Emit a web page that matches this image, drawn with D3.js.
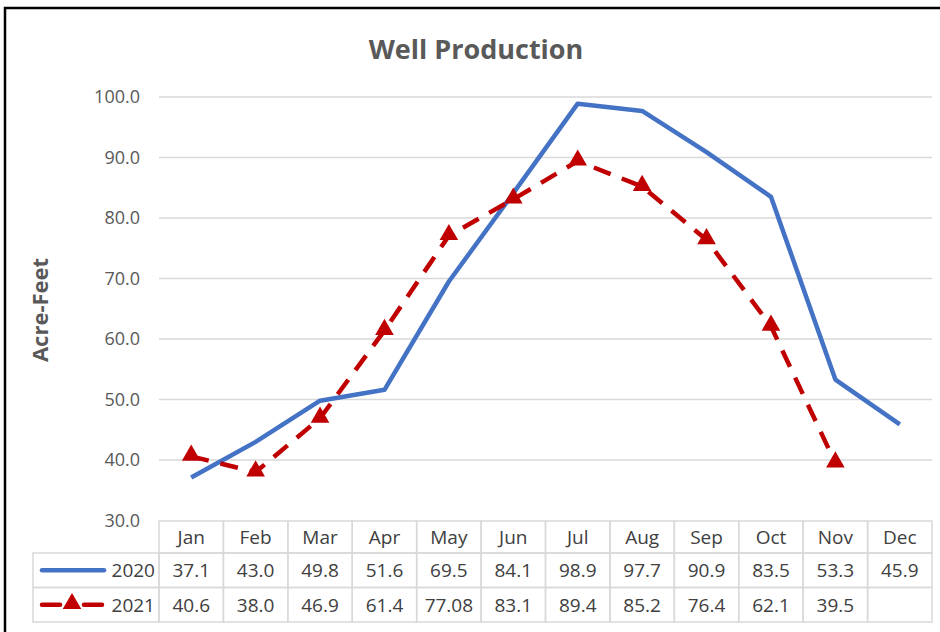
<!DOCTYPE html>
<html>
<head>
<meta charset="utf-8">
<script src="https://cdn.jsdelivr.net/npm/d3@7"></script>
<style>
  body { margin: 0; background: #fff; }
  svg { display: block; font-family: "Open Sans", "Noto Sans", sans-serif; }
</style>
</head>
<body>
<svg id="chart" width="940" height="632"></svg>
<script>
const months = ["Jan", "Feb", "Mar", "Apr", "May", "Jun", "Jul", "Aug", "Sep", "Oct", "Nov", "Dec"];
const values2020 = [37.1, 43.0, 49.8, 51.6, 69.5, 84.1, 98.9, 97.7, 90.9, 83.5, 53.3, 45.9];
const values2021 = [40.6, 38.0, 46.9, 61.4, 77.08, 83.1, 89.4, 85.2, 76.4, 62.1, 39.5, null];
const seriesNames = ["2020", "2021"];
const yTicks = [30, 40, 50, 60, 70, 80, 90, 100];

const svg = d3.select("#chart");

// outer frame (runs off the right / bottom edge like the screenshot)
svg.append("rect")
    .attr("x", 5).attr("y", 8)
    .attr("width", 960).attr("height", 660)
    .attr("fill", "#fff")
    .attr("stroke", "#000")
    .attr("stroke-width", 2.5);

const plotLeft = 159, plotRight = 932;
const x = d3.scaleBand().domain(months).range([plotLeft, plotRight]);
const y = d3.scaleLinear().domain([30, 100]).range([520.5, 97]);

// gridlines
svg.append("g")
    .selectAll("line")
    .data(yTicks.filter(d => d > 30))
    .join("line")
    .attr("x1", plotLeft).attr("x2", plotRight)
    .attr("y1", d => y(d)).attr("y2", d => y(d))
    .attr("stroke", "#d9d9d9")
    .attr("stroke-width", 1.5);

// y axis labels
const yAxis = svg.append("g")
    .attr("transform", `translate(${plotLeft - 19},0)`)
    .call(d3.axisLeft(y).tickValues(yTicks).tickFormat(d3.format(".1f")).tickSize(0).tickPadding(0));
yAxis.select(".domain").remove();
yAxis.selectAll("text")
    .attr("fill", "#595959")
    .attr("font-size", 18)
    .attr("font-family", "Open Sans, sans-serif");

// title + axis title
svg.append("text")
    .attr("x", 476).attr("y", 59)
    .attr("text-anchor", "middle")
    .attr("font-size", 27)
    .attr("font-weight", "bold")
    .attr("fill", "#595959")
    .text("Well Production");

svg.append("text")
    .attr("transform", "translate(48,310) rotate(-90)")
    .attr("text-anchor", "middle")
    .attr("font-size", 22)
    .attr("font-weight", "bold")
    .attr("fill", "#595959")
    .text("Acre-Feet");

const cx = d => x(d) + x.bandwidth() / 2;
const blue = "#4472c4", red = "#c00000";

const line = d3.line()
    .defined(d => d.v != null)
    .x(d => cx(d.m))
    .y(d => y(d.v));

const data2020 = months.map((m, i) => ({m: m, v: values2020[i]}));
const data2021 = months.map((m, i) => ({m: m, v: values2021[i]}));

svg.append("path")
    .datum(data2020)
    .attr("fill", "none")
    .attr("stroke", blue)
    .attr("stroke-width", 4.5)
    .attr("stroke-linejoin", "round")
    .attr("d", line);

svg.append("path")
    .datum(data2021)
    .attr("fill", "none")
    .attr("stroke", red)
    .attr("stroke-width", 4.5)
    .attr("stroke-dasharray", "18,12")
    .attr("stroke-linejoin", "round")
    .attr("d", line);

const tri = d3.symbol().type(d3.symbolTriangle).size(150);
svg.append("g")
    .selectAll("path")
    .data(data2021.filter(d => d.v != null))
    .join("path")
    .attr("transform", d => `translate(${cx(d.m)},${y(d.v) - 1})`)
    .attr("d", tri)
    .attr("fill", red);

// data table
const rowTop = [521, 553, 587.5];
const rowH = [32, 34.5, 34.5];
const legLeft = 33;
const grid = svg.append("g");
const cellStroke = "#d9d9d9";
const tableFont = 19;

// header row (months only)
months.forEach(m => {
    grid.append("rect")
        .attr("x", x(m)).attr("y", rowTop[0])
        .attr("width", x.bandwidth()).attr("height", rowH[0])
        .attr("fill", "none").attr("stroke", cellStroke).attr("stroke-width", 1.5);
    grid.append("text")
        .attr("x", cx(m)).attr("y", rowTop[0] + rowH[0] / 2 + 7)
        .attr("text-anchor", "middle")
        .attr("font-size", tableFont)
        .attr("fill", "#404040")
        .text(m);
});

const fmt = v => v == null ? "" : (Math.abs(Math.round(v * 10) - v * 10) < 1e-9 ? v.toFixed(1) : String(v));
const seriesVals = [values2020, values2021];

seriesNames.forEach((name, r) => {
    const top = rowTop[r + 1], h = rowH[r + 1], mid = top + h / 2;
    grid.append("rect")
        .attr("x", legLeft).attr("y", top)
        .attr("width", plotLeft - legLeft).attr("height", h)
        .attr("fill", "none").attr("stroke", cellStroke).attr("stroke-width", 1.5);
    grid.append("text")
        .attr("x", plotLeft - 4).attr("y", mid + 7)
        .attr("text-anchor", "end")
        .attr("font-size", tableFont)
        .attr("fill", "#404040")
        .text(name);
    // legend key
    if (r == 0) {
        grid.append("line")
            .attr("x1", 42).attr("x2", 104).attr("y1", mid).attr("y2", mid)
            .attr("stroke", blue).attr("stroke-width", 4.5).attr("stroke-linecap", "round");
    } else {
        grid.append("line")
            .attr("x1", 42).attr("x2", 60).attr("y1", mid).attr("y2", mid)
            .attr("stroke", red).attr("stroke-width", 4.5).attr("stroke-linecap", "round");
        grid.append("line")
            .attr("x1", 84).attr("x2", 102).attr("y1", mid).attr("y2", mid)
            .attr("stroke", red).attr("stroke-width", 4.5).attr("stroke-linecap", "round");
        grid.append("path")
            .attr("transform", `translate(72,${mid - 1})`)
            .attr("d", tri)
            .attr("fill", red);
    }
    months.forEach((m, i) => {
        grid.append("rect")
            .attr("x", x(m)).attr("y", top)
            .attr("width", x.bandwidth()).attr("height", h)
            .attr("fill", "none").attr("stroke", cellStroke).attr("stroke-width", 1.5);
        grid.append("text")
            .attr("x", cx(m)).attr("y", mid + 7)
            .attr("text-anchor", "middle")
            .attr("font-size", tableFont)
            .attr("fill", "#404040")
            .text(fmt(seriesVals[r][i]));
    });
});
</script>
</body>
</html>
